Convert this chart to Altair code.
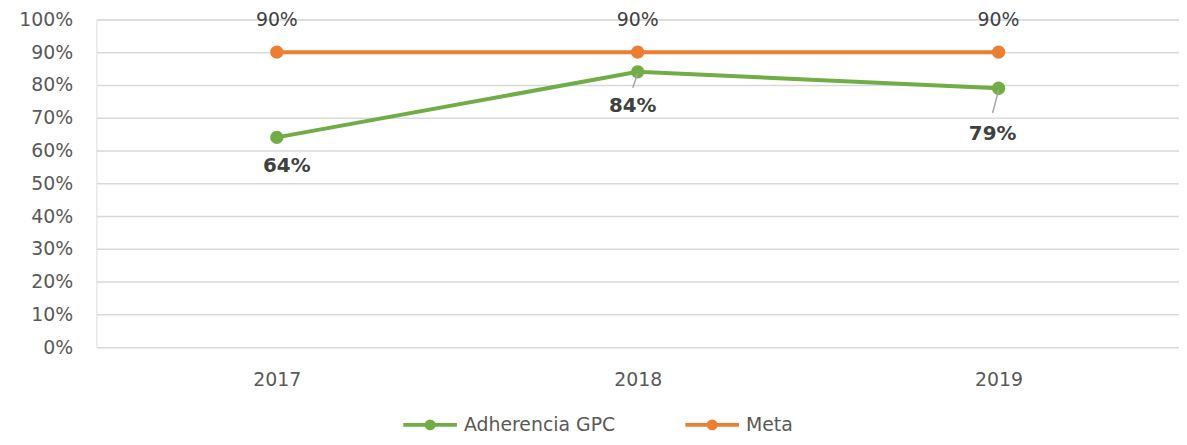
import altair as alt
import pandas as pd

years = ["2017", "2018", "2019"]
adherencia = [0.64, 0.84, 0.79]
meta = [0.90, 0.90, 0.90]
series_names = ["Adherencia GPC", "Meta"]
series_colors = ["#70AD47", "#ED7D31"]
y_ticks = [0, 0.1, 0.2, 0.3, 0.4, 0.5, 0.6, 0.7, 0.8, 0.9, 1.0]

rows = []
for y, a, m in zip(years, adherencia, meta):
    rows.append({"year": y, "serie": series_names[0], "value": a})
    rows.append({"year": y, "serie": series_names[1], "value": m})
df = pd.DataFrame(rows)

FONT = "DejaVu Sans"
x_enc = alt.X("year:N", scale=alt.Scale(type="point", padding=0.5), title=None,
              axis=alt.Axis(labelAngle=0, ticks=False, domain=False, labelPadding=24,
                            labelFontSize=19, labelColor="#595959", labelFont=FONT, grid=False))
y_enc = alt.Y("value:Q", scale=alt.Scale(domain=[0, 1]), title=None,
              axis=alt.Axis(values=y_ticks, format=".0%", ticks=False, domain=False,
                            labelOverlap=False, labelPadding=24, labelFontSize=19,
                            labelColor="#595959", labelFont=FONT,
                            gridColor="#D9D9D9", gridWidth=1.5))

legend_path = ("M-1,0H1"
               "M0.13,0A0.13,0.13,0,1,1,-0.13,0A0.13,0.13,0,1,1,0.13,0"
               "M0.07,0A0.07,0.07,0,1,1,-0.07,0A0.07,0.07,0,1,1,0.07,0")

color_scale = alt.Scale(domain=series_names, range=series_colors)
color_enc = alt.Color("serie:N", scale=color_scale,
                      legend=alt.Legend(title=None, orient="none", direction="horizontal",
                                        legendX=307, legendY=379,
                                        symbolType=legend_path, symbolSize=2916,
                                        symbolStrokeWidth=4, labelFontSize=19,
                                        labelFont=FONT, labelColor="#595959",
                                        labelLimit=400,
                                        labelOffset=5, columnPadding=62, padding=0))

base = alt.Chart(df)

lines = base.mark_line(strokeWidth=4).encode(x=x_enc, y=y_enc, color=color_enc,
                                             order=alt.Order("year:N"))
points = base.mark_circle(size=180, opacity=1).encode(
    x=x_enc, y=y_enc, color=alt.Color("serie:N", scale=color_scale, legend=None))

meta_labels = base.transform_filter(alt.datum.serie == "Meta").mark_text(
    dy=-32, fontSize=19, font=FONT, color="#404040").encode(
    x=x_enc, y=y_enc, text=alt.Text("value:Q", format=".0%"))

layers = [lines, points, meta_labels]

# leader lines for the green labels
leaders = {"2018": (2, 16, -5), "2019": (2, 25, -6)}
for yr, (yo, y2o, x2o) in leaders.items():
    layers.append(base.transform_filter(
        (alt.datum.serie == "Adherencia GPC") & (alt.datum.year == yr)).mark_rule(
        color="#A6A6A6", strokeWidth=1.5, yOffset=yo, y2Offset=y2o, x2Offset=x2o).encode(
        x=x_enc, x2="year:N", y=y_enc, y2="value:Q"))

label_offsets = {"2017": (10, 29), "2018": (-5, 34), "2019": (-6, 46)}
for yr, (dx, dy) in label_offsets.items():
    layers.append(base.transform_filter(
        (alt.datum.serie == "Adherencia GPC") & (alt.datum.year == yr)).mark_text(
        dx=dx, dy=dy, fontSize=20, fontWeight="bold", font=FONT, color="#404040").encode(
        x=x_enc, y=y_enc, text=alt.Text("value:Q", format=".0%")))

chart = alt.layer(*layers).properties(
    width=1090, height=330,
    autosize=alt.AutoSizeParams(type="none"),
    padding={"left": 89, "top": 10, "right": 0, "bottom": 89},
).configure_view(stroke=None).configure(background="white")

chart.save("out.html", embed_options={"renderer": "svg", "actions": False})
